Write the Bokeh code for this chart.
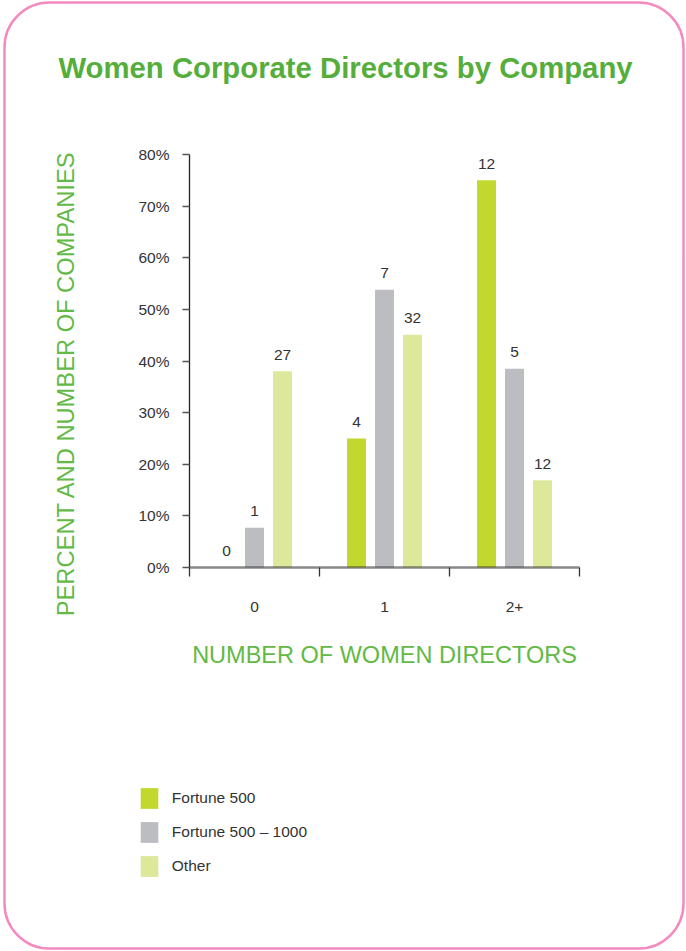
import math
from bokeh.plotting import figure
from bokeh.models import (Range1d, FixedTicker, PrintfTickFormatter, ColumnDataSource,
                          Legend, LegendItem, Label, BoxAnnotation)
from bokeh.transform import dodge
from bokeh.embed import file_html
from bokeh.resources import INLINE

# ---------------- data ----------------
groups = ["0", "1", "2+"]
group_pos = [0.5, 1.5, 2.5]
series_names = ["Fortune 500", "Fortune 500 \u2013 1000", "Other"]
fortune500_pct = [0.0, 25.0, 75.0]
fortune500_1000_pct = [7.7, 53.8, 38.5]
other_pct = [38.0, 45.1, 16.9]
fortune500_count = ["0", "4", "12"]
fortune500_1000_count = ["1", "7", "5"]
other_count = ["27", "32", "12"]
y_ticks = [0, 10, 20, 30, 40, 50, 60, 70, 80]
title_text = "Women Corporate Directors by Company"
x_label = "NUMBER OF WOMEN DIRECTORS"
y_label = "PERCENT AND NUMBER OF COMPANIES"

# ---------------- layout / style ----------------
W, H = 686, 951
PX_X0, PX_X3 = 189, 579      # canvas x of category-axis start and end
PX_Y0, PX_Y80 = 567, 154     # canvas y of 0% and 80%
FONT = "Liberation Sans"
COLORS = ["#C3D82E", "#BCBDC0", "#DDE89A"]
TITLE_GREEN = "#55AE3C"
LABEL_GREEN = "#63B946"
TEXT = "#333333"

kx = (PX_X3 - PX_X0) / 3.0
ky = (PX_Y0 - PX_Y80) / 80.0
x_range = Range1d(-PX_X0 / kx, 3 + (W - PX_X3) / kx)
y_range = Range1d(-(H - PX_Y0) / ky, 80 + PX_Y80 / ky)

src = ColumnDataSource(dict(
    x=group_pos,
    f500=fortune500_pct, f1000=fortune500_1000_pct, other=other_pct,
    n500=fortune500_count, n1000=fortune500_1000_count, nother=other_count,
))

p = figure(width=W, height=H, x_range=x_range, y_range=y_range,
           output_backend="svg", toolbar_location=None,
           min_border_left=0, min_border_right=0, min_border_top=0, min_border_bottom=0,
           outline_line_color=None, background_fill_color="white",
           border_fill_color="white")
p.grid.visible = False

# y axis
ya = p.yaxis[0]
ya.fixed_location = 0
ya.bounds = (0, 80)
ya.ticker = FixedTicker(ticks=y_ticks, minor_ticks=[])
ya.formatter = PrintfTickFormatter(format="%d%%")
ya.major_tick_out = 7
ya.major_tick_in = 0
ya.minor_tick_out = 0
ya.minor_tick_in = 0
ya.axis_line_color = "#222222"
ya.axis_line_width = 1.3
ya.major_tick_line_color = "#555555"
ya.major_tick_line_width = 1.3
ya.major_label_text_font = FONT
ya.major_label_text_font_size = "15.5px"
ya.major_label_text_color = TEXT
ya.major_label_standoff = 13

# x axis
xa = p.xaxis[0]
xa.fixed_location = 0
xa.bounds = (0, 3)
xa.ticker = FixedTicker(ticks=group_pos, minor_ticks=[0, 1, 2, 3])
xa.major_label_overrides = {gp: g for gp, g in zip(group_pos, groups)}
xa.major_tick_out = 0
xa.major_tick_in = 0
xa.minor_tick_out = 9
xa.minor_tick_in = 0
xa.minor_tick_line_color = "#333333"
xa.minor_tick_line_width = 1.3
xa.axis_line_color = "#282828"
xa.axis_line_alpha = 0.55
xa.axis_line_width = 2.5
xa.major_label_text_font = FONT
xa.major_label_text_font_size = "15.5px"
xa.major_label_text_color = TEXT
xa.major_label_standoff = 25
xa.axis_label = x_label
xa.axis_label_text_font = FONT
xa.axis_label_text_font_size = "23.5px"
xa.axis_label_text_font_style = "normal"
xa.axis_label_text_color = LABEL_GREEN
xa.axis_label_standoff = 27

# bars + count labels
off = 0.2154
bw = 0.146
cols = ["f500", "f1000", "other"]
ncols = ["n500", "n1000", "nother"]
offsets = [-off, 0.0, off]
renderers = []
for col, ncol, o, c in zip(cols, ncols, offsets, COLORS):
    r = p.vbar(x=dodge("x", o), top=col, width=bw, bottom=0, source=src,
               fill_color=c, line_color=None)
    renderers.append(r)
    p.text(x=dodge("x", o), y=col, text=ncol, source=src,
           text_align="center", text_baseline="alphabetic", y_offset=-16.5,
           text_font_size="15.5px", text_color=TEXT, text_font={"value": FONT})

p.xaxis.level = "overlay"

# title
p.add_layout(Label(x=58, y=H - 67, x_units="screen", y_units="screen",
                   text=title_text, text_align="left", text_baseline="alphabetic",
                   text_font=FONT, text_font_size="29.3px", text_font_style="bold",
                   text_color=TITLE_GREEN))

# y axis label
p.add_layout(Label(x=65, y=H - 383, x_units="screen", y_units="screen",
                   text=y_label, angle=math.pi / 2,
                   text_align="center", text_baseline="alphabetic",
                   text_font=FONT, text_font_size="23.7px", text_color=LABEL_GREEN))

# legend
legend = Legend(items=[LegendItem(label=n, renderers=[r]) for n, r in zip(series_names, renderers)],
                location=(137.8, H - 879.4), orientation="vertical",
                glyph_width=22, glyph_height=26, spacing=8, label_standoff=12,
                padding=0, margin=0, border_line_color=None, background_fill_alpha=0,
                label_text_font=FONT, label_text_font_size="15.5px", label_text_color=TEXT)
p.add_layout(legend)

# rounded border
p.add_layout(BoxAnnotation(left=4, right=683, top=H - 2, bottom=H - 948,
                           left_units="screen", right_units="screen",
                           top_units="screen", bottom_units="screen",
                           fill_alpha=0, line_color="#F48BC0", line_alpha=1.0,
                           line_width=2.5, border_radius=45))

open("out.html", "w").write(file_html(p, INLINE))
